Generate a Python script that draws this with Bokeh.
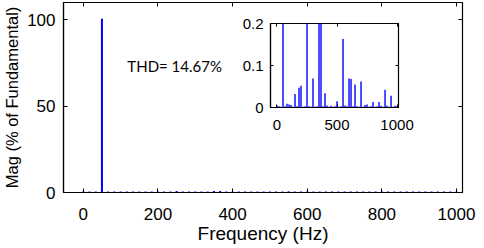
from bokeh.plotting import figure
from bokeh.models import FixedTicker, LinearAxis, ColumnDataSource, Label, CustomJSTickFormatter
from bokeh.layouts import column
from bokeh.embed import file_html
from bokeh.resources import INLINE

# ---- data ----
freqs = [0, 16.7, 33.3, 50, 66.7, 83.3, 100, 116.7, 133.3, 150, 166.7, 183.3, 200,
         216.7, 233.3, 250, 266.7, 283.3, 300, 316.7, 333.3, 350, 366.7, 383.3, 400,
         416.7, 433.3, 450, 466.7, 483.3, 500, 516.7, 533.3, 550, 566.7, 583.3, 600,
         616.7, 633.3, 650, 666.7, 683.3, 700, 716.7, 733.3, 750, 766.7, 783.3, 800,
         816.7, 833.3, 850, 866.7, 883.3, 900, 916.7, 933.3, 950, 966.7, 983.3, 1000]
mags = [0.005, 0.003, 0.002, 100, 0.003, 0.009, 0.007, 0.006, 0.002, 0.032, 0.003, 0.047, 0.052,
        0.002, 0.003, 0.26, 0.003, 0.002, 0.069, 0.002, 0.003, 0.27, 0.24, 0.003, 0.034,
        0.005, 0.002, 0.004, 0.002, 0.003, 0.015, 0.002, 0.003, 0.163, 0.005, 0.003, 0.069,
        0.068, 0.003, 0.055, 0.003, 0.002, 0.062, 0.002, 0.006, 0.007, 0.002, 0.003, 0.013,
        0.002, 0.003, 0.013, 0.004, 0.002, 0.042, 0.004, 0.002, 0.028, 0.002, 0.004, 0.003]
zeros = [0] * len(freqs)
x_ticks = [0, 200, 400, 600, 800, 1000]
y_ticks = [0, 50, 100]
inset_x_ticks = [0, 500, 1000]
inset_y_ticks = [0, 0.1, 0.2]
thd_text = "THD= 14.67%"

BLUE = "#0000FF"
FONT = "Liberation Sans"

src = ColumnDataSource(dict(f=freqs, m=mags, z=zeros))
blank = CustomJSTickFormatter(code="return ''")

# ---- main figure ----
ML = 72      # left border of the main figure (shifted left so the frame starts at x=63)
p = figure(width=ML + 399 + 22, height=248, x_range=(-53, 1016), y_range=(0, 110),
           output_backend="svg", toolbar_location=None,
           min_border_left=ML, min_border_right=22, min_border_top=2, min_border_bottom=56,
           styles={"position": "relative", "left": f"{63 - ML}px"})
p.background_fill_color = "white"
p.border_fill_color = "white"
p.outline_line_color = "black"
p.outline_line_width = 1.2
p.grid.visible = False

p.segment(x0="f", y0="z", x1="f", y1="m", source=src, line_color=BLUE,
          line_width=2, line_cap="square")

p.xaxis.ticker = FixedTicker(ticks=x_ticks)
p.yaxis.ticker = FixedTicker(ticks=y_ticks)
for ax in (p.xaxis[0], p.yaxis[0]):
    ax.major_tick_in = 4
    ax.major_tick_out = 0
    ax.minor_tick_line_color = None
    ax.axis_line_color = "black"
    ax.axis_line_width = 1.2
    ax.major_tick_line_color = "black"
    ax.major_label_text_font = FONT
    ax.major_label_text_font_size = "17px"
    ax.major_label_text_color = "black"
    ax.axis_label_text_font = FONT
    ax.axis_label_text_font_style = "normal"
    ax.axis_label_text_color = "black"
p.xaxis.axis_label = "Frequency (Hz)"
p.yaxis.axis_label = "Mag (% of Fundamental)"
p.xaxis.axis_label_text_font_size = "19px"
p.yaxis.axis_label_text_font_size = "16.5px"
p.xaxis.major_label_standoff = 15
p.xaxis.axis_label_standoff = 0
p.yaxis.major_label_standoff = 8
p.yaxis.axis_label_standoff = 3

for side, tk in (("above", x_ticks), ("right", y_ticks)):
    p.add_layout(LinearAxis(ticker=FixedTicker(ticks=tk), formatter=blank,
                            major_tick_in=4, major_tick_out=0, minor_tick_line_color=None,
                            major_label_text_font_size="1px", major_label_standoff=0,
                            axis_line_color=None), side)

p.add_layout(Label(x=118, y=73.5, text=thd_text, text_font="Lato", text_font_size="15px",
                   text_color="black", text_baseline="alphabetic"))

# ---- inset figure ----
IL = 70
ins = figure(width=IL + 142 + 10, height=10 + 84 + 34, x_range=(-54, 1012), y_range=(0, 0.2),
             output_backend="svg", toolbar_location=None,
             min_border_left=IL, min_border_right=10, min_border_top=10, min_border_bottom=34,
             styles={"position": "absolute", "left": f"{268 - IL}px", "top": "13px"})
ins.background_fill_color = "white"
ins.border_fill_color = None
ins.outline_line_color = "black"
ins.outline_line_width = 1.2
ins.grid.visible = False
ins.segment(x0="f", y0="z", x1="f", y1="m", source=src, line_color=BLUE, line_width=1.4)
ins.xaxis.ticker = FixedTicker(ticks=inset_x_ticks)
ins.yaxis.ticker = FixedTicker(ticks=inset_y_ticks)
ins.yaxis.major_label_overrides = {0: "0", 0.1: "0.1", 0.2: "0.2"}
for ax in (ins.xaxis[0], ins.yaxis[0]):
    ax.major_tick_in = 3
    ax.major_tick_out = 0
    ax.minor_tick_line_color = None
    ax.axis_line_color = "black"
    ax.axis_line_width = 1.2
    ax.major_label_text_font = FONT
    ax.major_label_text_font_size = "15px"
    ax.major_label_text_color = "black"
ins.xaxis.major_label_standoff = 12
ins.yaxis.major_label_standoff = 7
for side, tk in (("above", inset_x_ticks), ("right", inset_y_ticks)):
    ins.add_layout(LinearAxis(ticker=FixedTicker(ticks=tk), formatter=blank,
                              major_tick_in=3, major_tick_out=0, minor_tick_line_color=None,
                              major_label_text_font_size="1px", major_label_standoff=0,
                              axis_line_color=None), side)

layout = column(p, ins)
open("out.html", "w").write(file_html(layout, INLINE))
